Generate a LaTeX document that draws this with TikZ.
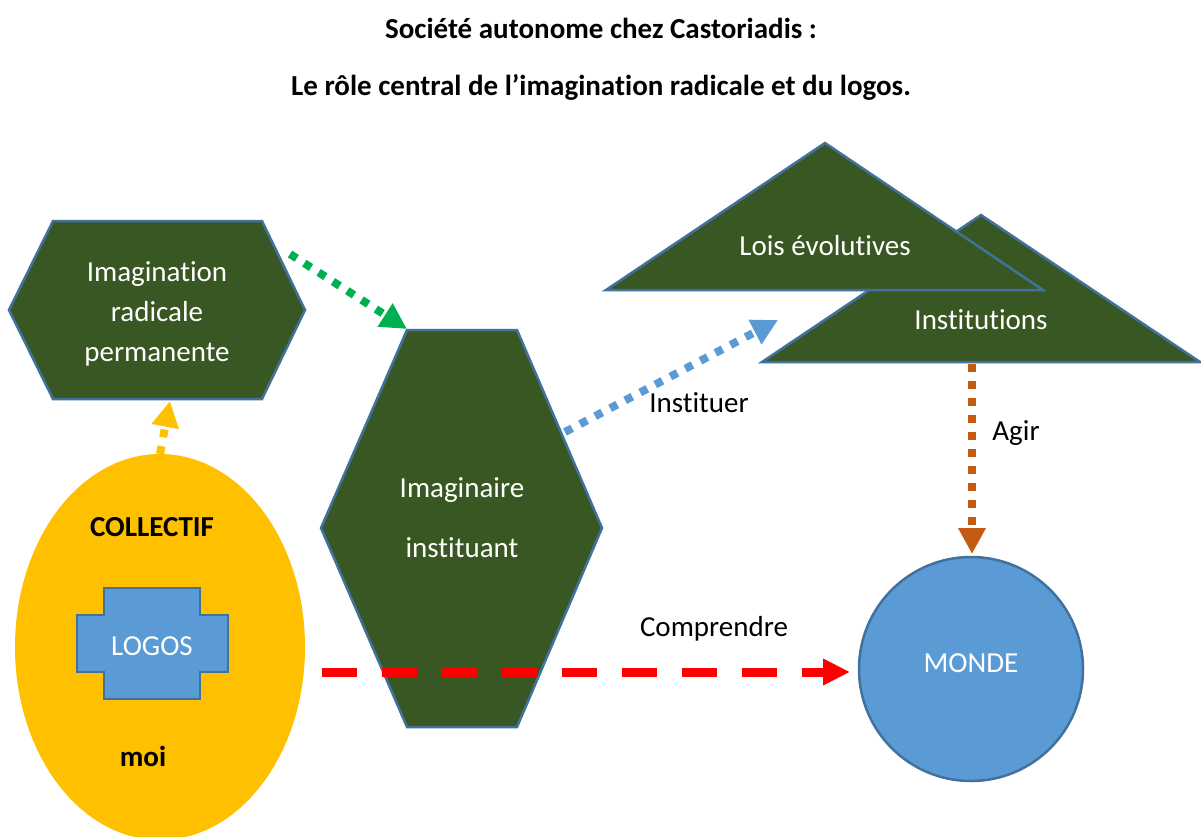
\documentclass[tikz,border=0pt]{standalone}
\usepackage{fontspec}
\setmainfont{Carlito}[Ligatures=NoCommon]
\usetikzlibrary{arrows.meta,shapes.geometric}
\definecolor{vertfonce}{HTML}{385723}
\definecolor{bord}{HTML}{41719C}
\definecolor{bleu}{HTML}{5B9BD5}
\definecolor{jaune}{HTML}{FFC000}
\definecolor{vertvif}{HTML}{00B050}
\definecolor{brique}{HTML}{C55A11}
\tikzset{forme/.style = {fill=vertfonce, draw=bord, line width=2.5pt, line join=miter},
         txt/.style   = {font=\fontsize{29}{40}\selectfont, text=white, align=center},
         lab/.style   = {font=\fontsize{29}{35}\selectfont},
         gras/.style  = {font=\fontsize{29}{35}\selectfont\bfseries},
         pointille/.style = {line width=8pt, dash pattern=on 8pt off 9pt,
                              -{Triangle[length=26pt, width=26pt]}}}

\begin{document}
\begin{tikzpicture}[x=1pt, y=-1pt]
    \fill[white] (0,0) rectangle (1201,836);
    \useasboundingbox (0,0) rectangle (1201,836);
    % titre
    \node[gras] (titre) at (601,28) {Société autonome chez Castoriadis :};
    \node[gras] (soustitre) at (601,87) {Le rôle central de l’imagination radicale et du logos.};
    % hexagones
    \draw[forme] (53,221) -- (262,221) -- (305,310) -- (262,399) -- (53,399) -- (9,310) -- cycle;
    \node[txt] (imag) at (157,314) {Imagination\\radicale\\permanente};
    \draw[forme] (407,330) -- (517,330) -- (602,528) -- (517,727) -- (407,727) -- (321,528) -- cycle;
    \node[txt, font=\fontsize{29}{60}\selectfont] (instit) at (462,518) {Imaginaire\\instituant};
    % triangles
    \draw[forme] (762,362) -- (981,215) -- (1200,362) -- cycle;
    \draw[forme] (606,290) -- (825,143) -- (1043,290) -- cycle;
    \node[txt] (lois) at (825,246) {Lois évolutives};
    \node[txt] (instn) at (981,320) {Institutions};
    % collectif
    \node[ellipse, fill=jaune, minimum width=290, minimum height=386, inner sep=0pt] (coll) at (160,647) {};
    \node[gras] (collectif) at (152,527) {COLLECTIF};
    \draw[fill=bleu, draw=bord, line width=2pt] (104,588) -- (200,588) -- (200,615) -- (228,615) -- (228,672)
        -- (200,672) -- (200,699) -- (104,699) -- (104,672) -- (77,672) -- (77,615) -- (104,615) -- cycle;
    \node[txt] (logos) at (152,646) {LOGOS};
    \node[gras] (moi) at (143,756) {moi};
    % monde
    \node[circle, fill=bleu, draw=bord, line width=2.5pt, minimum size=224, inner sep=0pt] (monde) at (971,669) {};
    \node[txt] (mondetxt) at (971,663) {MONDE};
    % bouts des fleches
    \coordinate (g1) at (290,254);  \coordinate (g2) at (407,329);
    \coordinate (j1) at (160,454);  \coordinate (j2) at (170,401);
    \coordinate (b1) at (565,432);  \coordinate (b2) at (778,320);
    \coordinate (o1) at (972,364);  \coordinate (o2) at (972,554);
    \coordinate (r1) at (322,672);  \coordinate (r2) at (850,672);
    % fleches
    \draw[pointille, vertvif] (g1) -- (g2);
    \draw[pointille, jaune] (j1) -- (j2);
    \draw[pointille, bleu] (b1) -- (b2);
    \draw[pointille, brique] (o1) -- (o2);
    \draw[red, line width=9pt, dash pattern=on 35pt off 25pt, -{Triangle[length=27pt, width=25pt]}] (r1) -- (r2);
    \node[lab] (instituer) at (699,403) {Instituer};
    \node[lab] (agir) at (1016,433) {Agir};
    \node[lab] (comprendre) at (714,629) {Comprendre};
\end{tikzpicture}
\end{document}
